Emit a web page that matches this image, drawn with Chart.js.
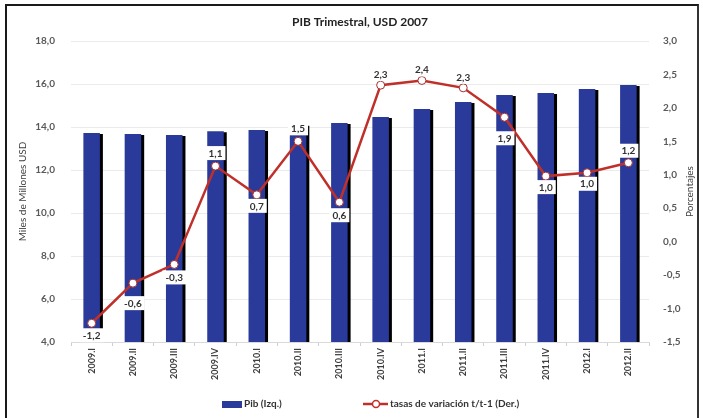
<!DOCTYPE html>
<html><head><meta charset="utf-8">
<script src="https://cdn.jsdelivr.net/npm/chart.js@4.4.0/dist/chart.umd.min.js"></script>
<style>
html,body{margin:0;padding:0;background:#fff;}
#wrap{position:relative;width:703px;height:418px;overflow:hidden;}
#frame{position:absolute;left:5px;top:4px;width:694px;height:440px;border-left:2px solid #1a1a1a;border-top:2px solid #1a1a1a;border-right:2px solid #333;box-sizing:border-box;pointer-events:none;}
</style></head>
<body><div id="wrap"><canvas id="c" width="703" height="418"></canvas><div id="frame"></div></div>
<script>
const categories = ['2009.I','2009.II','2009.III','2009.IV','2010.I','2010.II','2010.III','2010.IV','2011.I','2011.II','2011.III','2011.IV','2012.I','2012.II'];
const pib = [13.72,13.67,13.63,13.80,13.86,14.10,14.19,14.47,14.84,15.16,15.49,15.58,15.77,15.95];
const tasas = [-1.22,-0.62,-0.34,1.13,0.70,1.50,0.59,2.34,2.41,2.30,1.86,0.98,1.03,1.18];
const labelOffsets = [12,20,13,-13,11,-13,13,-11,-11,-11,21,11,11,-12];
const FONT = 'Lato, "Open Sans", sans-serif';
const fmt = v => v.toFixed(1).replace('.', ',');

const deco = {
  id: 'deco',
  beforeDatasetDraw(chart, args) {
    if (args.index === 0) {
      const ctx = chart.ctx; ctx.save();
      ctx.shadowColor = '#000'; ctx.shadowOffsetX = 3; ctx.shadowOffsetY = 1; ctx.shadowBlur = 0;
    }
  },
  afterDatasetDraw(chart, args) {
    if (args.index === 0) chart.ctx.restore();
  },
  afterDatasetsDraw(chart) {
    const ctx = chart.ctx;
    const meta = chart.getDatasetMeta(1);
    ctx.save();
    ctx.font = 'bold 10px ' + FONT;
    ctx.textAlign = 'center'; ctx.textBaseline = 'middle';
    meta.data.forEach((pt, i) => {
      const t = fmt(tasas[i]);
      const w = ctx.measureText(t).width + 6;
      const cy = pt.y + labelOffsets[i];
      ctx.fillStyle = '#fff';
      ctx.fillRect(pt.x - w / 2, cy - 7, w, 14);
      ctx.fillStyle = '#333';
      ctx.fillText(t, pt.x, cy + 0.5);
    });
    ctx.restore();
  },
  afterDraw(chart) {
    const ctx = chart.ctx, a = chart.chartArea;
    ctx.save();
    ctx.fillStyle = '#222'; ctx.textAlign = 'center'; ctx.textBaseline = 'middle';
    ctx.font = 'bold 12px ' + FONT;
    ctx.fillText('PIB Trimestral, USD 2007', (a.left + a.right) / 2, 22);
    ctx.font = '10px ' + FONT; ctx.fillStyle = '#404040';
    const cy = (a.top + a.bottom) / 2;
    ctx.save(); ctx.translate(23, cy); ctx.rotate(-Math.PI / 2); ctx.fillText('Miles de Millones USD', 0, 0); ctx.restore();
    ctx.save(); ctx.translate(690, cy); ctx.rotate(-Math.PI / 2); ctx.fillText('Porcentajes', 0, 0); ctx.restore();
    // legend
    const ly = 404;
    ctx.fillStyle = '#2A3A9A'; ctx.fillRect(222, ly - 3, 20, 7);
    ctx.font = 'bold 10px ' + FONT; ctx.fillStyle = '#333'; ctx.textAlign = 'left';
    ctx.fillText('Pib (Izq.)', 244, ly);
    ctx.strokeStyle = '#C0302A'; ctx.lineWidth = 2.5;
    ctx.beginPath(); ctx.moveTo(363, ly); ctx.lineTo(388, ly); ctx.stroke();
    ctx.beginPath(); ctx.arc(376, ly, 3.5, 0, Math.PI * 2);
    ctx.fillStyle = '#fff'; ctx.fill(); ctx.lineWidth = 1.5; ctx.stroke();
    ctx.fillStyle = '#333';
    ctx.fillText('tasas de variación t/t-1 (Der.)', 390, ly);
    ctx.restore();
  }
};

new Chart(document.getElementById('c'), {
  data: {
    labels: categories,
    datasets: [
      { type: 'bar', label: 'Pib (Izq.)', data: pib, yAxisID: 'y', backgroundColor: '#2A3A9A',
        categoryPercentage: 1, barPercentage: 0.4, order: 2 },
      { type: 'line', label: 'tasas de variación t/t-1 (Der.)', data: tasas, yAxisID: 'y1',
        borderColor: '#C0302A', borderWidth: 2.5, pointRadius: 4, pointBackgroundColor: '#fff',
        pointBorderColor: '#a03030', pointBorderWidth: 1, tension: 0, order: 1 }
    ]
  },
  options: {
    responsive: false, animation: false, devicePixelRatio: 1,
    layout: { padding: { top: 41, left: 0, right: 0, bottom: 0 } },
    plugins: { legend: { display: false }, title: { display: false }, tooltip: { enabled: false } },
    scales: {
      x: {
        grid: { display: true, drawOnChartArea: false, drawTicks: true, tickLength: 4, color: '#cfcfcf', offset: true },
        border: { color: '#d9d9d9' },
        ticks: { minRotation: 90, maxRotation: 90, autoSkip: false, padding: 2, color: '#404040', font: { size: 9, weight: 'bold', family: FONT } },
        afterFit: s => { s.height = 76; }
      },
      y: {
        position: 'left', min: 4, max: 18,
        grid: { color: '#ebebeb', drawTicks: false },
        border: { display: false },
        ticks: { stepSize: 2, padding: 16, color: '#595959', font: { size: 10, weight: 'bold', family: FONT }, callback: v => fmt(v) },
        afterFit: s => { s.width = 71; }
      },
      y1: {
        position: 'right', min: -1.5, max: 3,
        grid: { drawOnChartArea: false, drawTicks: false },
        border: { display: false },
        ticks: { stepSize: 0.5, padding: 14, color: '#595959', font: { size: 10, weight: 'bold', family: FONT }, callback: v => fmt(v) },
        afterFit: s => { s.width = 54; }
      }
    }
  },
  plugins: [deco]
});
</script>
</body></html>
